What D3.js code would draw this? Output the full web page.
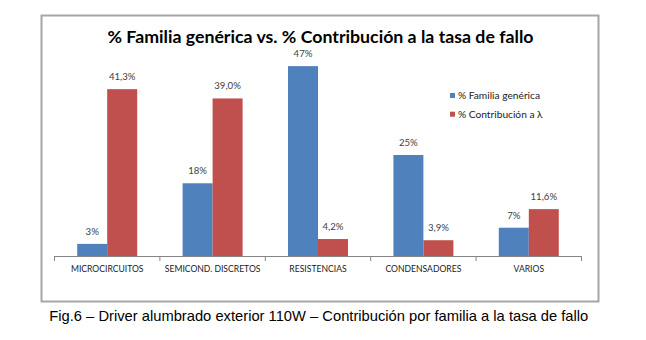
<!DOCTYPE html>
<html>
<head>
  <meta charset="utf-8">
  <title>Familia genérica vs contribución</title>
  <script src="https://cdn.jsdelivr.net/npm/d3@7/dist/d3.min.js"></script>
  <style>
    html, body { margin: 0; background: #fff; }
  </style>
</head>
<body>
<script>
  // datos
  var categories = ['MICROCIRCUITOS', 'SEMICOND. DISCRETOS', 'RESISTENCIAS', 'CONDENSADORES', 'VARIOS'];
  var familia = [3, 18, 47, 25, 7];
  var contribucion = [41.3, 39.0, 4.2, 3.9, 11.6];
  var seriesNames = ['% Familia genérica', '% Contribución  a λ'];
  var colors = ['#4F81BD', '#C0504D'];
  var titleText = '% Familia genérica vs. % Contribución  a la tasa de fallo';
  var captionText = 'Fig.6 – Driver alumbrado exterior 110W – Contribución por familia a la tasa de fallo';

  var width = 646, height = 340;

  var svg = d3.select('body').append('svg')
    .attr('width', width)
    .attr('height', height)
    .attr('font-family', 'Lato, "Open Sans", sans-serif');

  // marco del grafico
  svg.append('rect')
    .attr('x', 41.5).attr('y', 15.5)
    .attr('width', 557).attr('height', 286)
    .attr('fill', '#fff')
    .attr('stroke', '#a6a6a6')
    .attr('stroke-width', 2);

  svg.append('text')
    .attr('x', 320.5).attr('y', 42.7)
    .attr('text-anchor', 'middle')
    .attr('font-weight', 'bold')
    .attr('font-size', 17.5)
    .attr('textLength', 426)
    .attr('lengthAdjust', 'spacingAndGlyphs')
    .attr('fill', '#000')
    .text(titleText);

  var x0 = d3.scaleBand()
    .domain(categories)
    .range([54.5, 581.5]);

  var x1 = d3.scaleBand()
    .domain([0, 1])
    .range([0, x0.bandwidth()])
    .paddingOuter(0.757);

  var y = d3.scaleLinear()
    .domain([0, 50])
    .range([256, 54]);

  var fmt = d3.formatLocale({ decimal: ',', thousands: '.', grouping: [3], currency: ['', '€'] });
  var fmtInt = function (v) { return fmt.format('.0f')(v) + '%'; };
  var fmtDec = function (v) { return fmt.format('.1f')(v) + '%'; };

  var rows = categories.map(function (c, i) {
    return { cat: c, vals: [familia[i], contribucion[i]] };
  });

  var groups = svg.append('g').selectAll('g')
    .data(rows)
    .enter().append('g')
    .attr('transform', function (d) { return 'translate(' + x0(d.cat) + ',0)'; });

  groups.selectAll('rect')
    .data(function (d) { return d.vals; })
    .enter().append('rect')
    .attr('x', function (d, i) { return x1(i); })
    .attr('y', function (d) { return y(d); })
    .attr('width', x1.bandwidth())
    .attr('height', function (d) { return y(0) - y(d); })
    .attr('fill', function (d, i) { return colors[i]; });

  groups.selectAll('text')
    .data(function (d) { return d.vals; })
    .enter().append('text')
    .attr('x', function (d, i) { return x1(i) + x1.bandwidth() / 2; })
    .attr('y', function (d) { return y(d) - 9; })
    .attr('text-anchor', 'middle')
    .attr('font-size', 9.6)
    .attr('fill', '#404040')
    .text(function (d, i) { return i === 0 ? fmtInt(d) : fmtDec(d); });

  // eje de categorias
  var axis = svg.append('g')
    .attr('transform', 'translate(0,' + y(0) + ')')
    .call(d3.axisBottom(x0).tickSize(0).tickPadding(10));
  axis.select('.domain').attr('stroke', '#868686');
  axis.selectAll('text')
    .attr('font-family', 'Lato, sans-serif')
    .attr('font-size', 8.6)
    .attr('fill', '#222');

  var bounds = categories.map(function (c) { return x0(c); }).concat([x0.range()[1]]);
  axis.selectAll('line.sep')
    .data(bounds)
    .enter().append('line')
    .attr('class', 'sep')
    .attr('x1', function (d) { return d; })
    .attr('x2', function (d) { return d; })
    .attr('y1', 0).attr('y2', 5)
    .attr('stroke', '#868686');

  // leyenda
  var legend = svg.append('g').selectAll('g')
    .data(seriesNames)
    .enter().append('g')
    .attr('transform', function (d, i) { return 'translate(450,' + (93 + i * 18.7) + ')'; });
  legend.append('rect')
    .attr('width', 5).attr('height', 5)
    .attr('fill', function (d, i) { return colors[i]; });
  legend.append('text')
    .attr('x', 8).attr('y', 2.5)
    .attr('dy', '0.35em')
    .attr('font-size', 10.2)
    .attr('fill', '#222')
    .text(function (d) { return d; });

  svg.append('text')
    .attr('x', 49.3).attr('y', 320.7)
    .attr('font-family', '"Liberation Sans", Arial, sans-serif')
    .attr('font-size', 15)
    .attr('textLength', 539)
    .attr('lengthAdjust', 'spacingAndGlyphs')
    .attr('fill', '#000')
    .text(captionText);
</script>
</body>
</html>
